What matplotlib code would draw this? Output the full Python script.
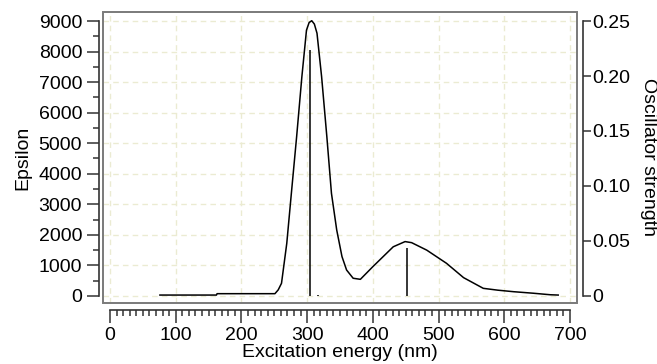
import numpy as np
import matplotlib
matplotlib.use("Agg")
import matplotlib.pyplot as plt
from matplotlib.patches import Rectangle
from matplotlib.ticker import FixedLocator

# absorption envelope (nm, epsilon)
wl = [76, 162, 163, 251, 256, 261, 269, 276, 284, 292, 299, 303, 307, 311,
      315, 322, 330, 337, 345, 353, 360, 370, 381, 400, 431, 449, 459, 482,
      512, 538, 568, 590, 614, 644, 670, 682]
eps = [30, 30, 75, 75, 200, 415, 1720, 3360, 5210, 7180, 8700, 8950, 9010,
       8900, 8600, 7180, 5210, 3360, 2160, 1290, 850, 580, 545, 960, 1610,
       1780, 1745, 1500, 1070, 600, 250, 190, 140, 90, 40, 30]

# transitions (nm, oscillator strength)
stick_wl = [305, 317, 452]
stick_f = [0.2236, 0.0012, 0.0434]

plt.rcParams['font.family'] = ['Liberation Sans', 'DejaVu Sans']
plt.rcParams['font.size'] = 14

fig = plt.figure(figsize=(6.57, 3.64), dpi=100)
W, H = 657, 364
l, r, t, b = 103, 577, 12, 303
ax = fig.add_axes([l / W, 1 - b / H, (r - l) / W, (b - t) / H])

ax.set_xlim(-10.6, 710.6)
ax.set_ylim(-230, 9295)

grid_col = '#ebebd2'
for xv in range(0, 701, 100):
    ax.axvline(xv, color=grid_col, lw=1, ls=(0, (4, 3)), zorder=0)
for yv in range(0, 9001, 1000):
    ax.axhline(yv, color=grid_col, lw=1, ls=(0, (4, 3)), zorder=0)

ax.plot(wl, eps, color='black', lw=1.1, zorder=3)

# frame
ax.add_patch(Rectangle((0, 0), 1, 1, transform=ax.transAxes, fill=False,
                       ec='#7a7a7a', lw=1.4, zorder=5, clip_on=False))

for s in ['top', 'right']:
    ax.spines[s].set_visible(False)
ax.spines['left'].set_position(('outward', 3))
ax.spines['left'].set_bounds(0, 9000)
ax.spines['bottom'].set_position(('outward', 5))
ax.spines['bottom'].set_bounds(0, 700)
for s in ['left', 'bottom']:
    ax.spines[s].set_color('#333333')
    ax.spines[s].set_linewidth(1.2)

ax.xaxis.set_major_locator(FixedLocator(range(0, 701, 100)))
ax.xaxis.set_minor_locator(FixedLocator(range(0, 701, 10)))
ax.yaxis.set_major_locator(FixedLocator(range(0, 9001, 1000)))
ax.yaxis.set_minor_locator(FixedLocator(range(0, 9001, 500)))
ax.tick_params(which='major', length=9, width=1.1, color='#333333')
ax.tick_params(which='minor', length=4.5, width=1.1, color='#333333')
ax.tick_params(axis='x', pad=3)
ax.tick_params(axis='y', pad=3)

ax.set_xlabel('Excitation energy (nm)', labelpad=0)
ax.set_ylabel('Epsilon', labelpad=5)

ax2 = ax.twinx()
ax2.set_ylim(-230 * 0.25 / 9000, 9295 * 0.25 / 9000)
ax2.vlines(stick_wl, 0, stick_f, color='black', lw=1.1)
for s in ['top', 'left', 'bottom']:
    ax2.spines[s].set_visible(False)
ax2.spines['right'].set_position(('outward', 4))
ax2.spines['right'].set_bounds(0, 0.25)
ax2.spines['right'].set_color('#333333')
ax2.spines['right'].set_linewidth(1.2)
ax2.set_yticks([0, 0.05, 0.10, 0.15, 0.20, 0.25])
ax2.set_yticklabels(['0', '0.05', '0.10', '0.15', '0.20', '0.25'])
ax2.tick_params(length=6, width=1.1, color='#333333', pad=1)
ax2.set_ylabel('Oscillator strength', rotation=270, labelpad=19)

fig.savefig('out.png', dpi=100)
